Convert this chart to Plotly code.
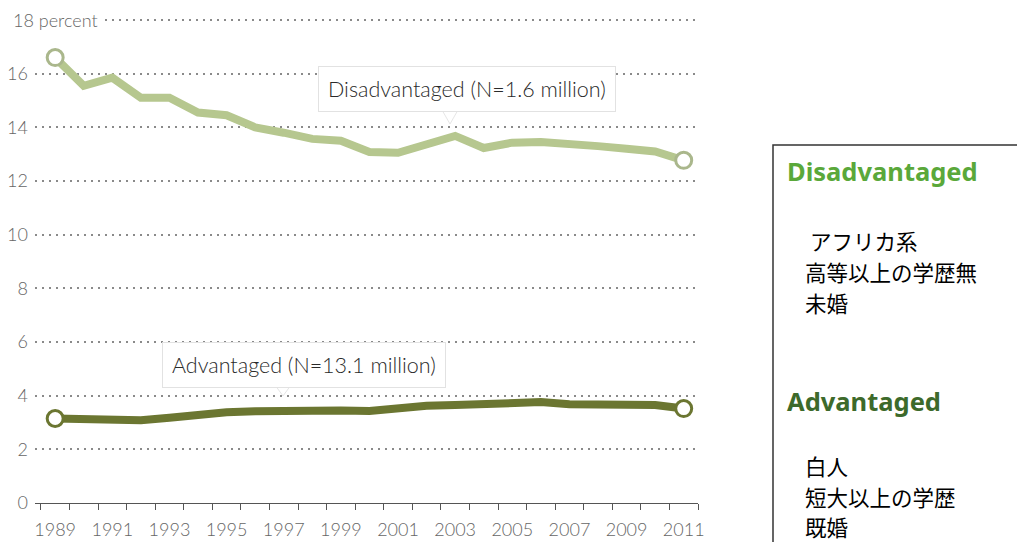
import plotly.graph_objects as go

years = list(range(1989, 2012))
disadvantaged = [16.6, 15.55, 15.85, 15.1, 15.1, 14.55, 14.45, 14.0, 13.8, 13.57, 13.5,
                 13.08, 13.05, 13.4, 13.68, 13.23, 13.43, 13.45, 13.4, 13.3, 13.2, 13.1, 12.77]
advantaged = [3.15, 3.14, 3.12, 3.08, 3.18, 3.3, 3.38, 3.42, 3.45, 3.45, 3.45,
              3.43, 3.55, 3.62, 3.65, 3.69, 3.73, 3.76, 3.68, 3.68, 3.65, 3.65, 3.52]
y_ticks = [0, 2, 4, 6, 8, 10, 12, 14, 16, 18]
y_ticktext = ["0", "2", "4", "6", "8", "10", "12", "14", "16", ""]
x_ticks = list(range(1989, 2012, 2))

LIGHT = "#b6c78f"
DARK = "#6b7631"
W, H = 1017, 542

fig = go.Figure()
fig.add_trace(go.Scatter(x=years, y=disadvantaged, mode="lines",
                         line=dict(color=LIGHT, width=8), hoverinfo="skip"))
fig.add_trace(go.Scatter(x=years, y=advantaged, mode="lines",
                         line=dict(color=DARK, width=8), hoverinfo="skip"))
fig.add_trace(go.Scatter(x=[years[0], years[-1]], y=[disadvantaged[0], disadvantaged[-1]],
                         mode="markers",
                         marker=dict(size=16, color="white", line=dict(color="#aab78c", width=3))))
fig.add_trace(go.Scatter(x=[years[0], years[-1]], y=[advantaged[0], advantaged[-1]],
                         mode="markers",
                         marker=dict(size=16, color="white", line=dict(color=DARK, width=3))))

px_per_year = 28.57
x_left_px, x_right_px = 35, 698
x0 = 2011.5 - (x_right_px - x_left_px) / px_per_year

px_per_unit = (503 - 20) / 18
y_top = 18.1
top_px = 503 - y_top * px_per_unit

tick_font = dict(family="Lato, 'Open Sans', sans-serif", size=18, color="#666", weight=300)

fig.update_layout(
    width=W, height=H,
    margin=dict(l=0, r=0, t=0, b=0),
    paper_bgcolor="white", plot_bgcolor="white",
    showlegend=False,
    xaxis=dict(domain=[x_left_px / W, x_right_px / W], range=[x0, 2011.5],
               tickvals=x_ticks, ticks="", showgrid=False, zeroline=False,
               showline=True, linecolor="#555", linewidth=1.3, automargin=False,
               tickfont=tick_font, ticklabelstandoff=10,
               minor=dict(tick0=1988.5, dtick=1, ticks="outside", ticklen=6,
                          tickcolor="#555", tickwidth=1.3, showgrid=False)),
    yaxis=dict(domain=[1 - 503 / H, 1 - top_px / H], range=[0, y_top],
               tickvals=y_ticks, ticktext=y_ticktext, ticks="",
               showgrid=True, gridcolor="#8a8a8a", gridwidth=1.6, griddash="2px,5px",
               zeroline=False, showline=False, tickfont=tick_font, automargin=False,
               ticklabelstandoff=6),
)

def px2x(p):
    return x0 + (p - x_left_px) / px_per_year

def py2y(p):
    return (503 - p) / px_per_unit

callout_font = dict(family="Lato, 'Open Sans', sans-serif", size=21.5, color="#2a2a2a", weight=300)
callouts = [
    ("Disadvantaged (N=1.6 million)", 467, 89, 450, 110, 124),
    ("Advantaged (N=13.1 million)", 304, 365, 283, 385, 396),
]
for text, cx, cy, tipx, basey, tipy in callouts:
    fig.add_shape(type="path", xref="x", yref="y",
                  path=f"M {px2x(tipx - 8)} {py2y(basey)} L {px2x(tipx)} {py2y(tipy)} L {px2x(tipx + 8)} {py2y(basey)} Z",
                  fillcolor="white", line=dict(color="#e6e6e6", width=1), layer="above")
    fig.add_annotation(x=px2x(cx), y=py2y(cy), xref="x", yref="y", text=text,
                       showarrow=False, font=callout_font, bgcolor="white",
                       bordercolor="#e2e2e2", borderwidth=1, borderpad=9)

fig.add_annotation(x=8 / W, y=18, xref="paper", yref="y", xanchor="left", yanchor="middle",
                   text="18 percent", showarrow=False, font=tick_font,
                   bgcolor="white", borderpad=4)

# Right panel
fig.add_shape(type="rect", xref="paper", yref="paper",
              x0=773 / W, x1=1.08, y0=-0.08, y1=1 - 145 / H,
              line=dict(color="#333", width=1.5), fillcolor="rgba(0,0,0,0)")

head_font = "'Noto Sans', 'Open Sans', sans-serif"
cjk_font = "'Noto Sans CJK JP', sans-serif"
panel_heads = [
    ("<b>Disadvantaged</b>", 785, 171, "#5aa83a"),
    ("<b>Advantaged</b>", 785, 401, "#3d6a2b"),
]
panel_notes = [
    ("アフリカ系", 808, 240),
    ("高等以上の学歴無", 803, 271),
    ("未婚", 803, 302),
    ("白人", 803, 465),
    ("短大以上の学歴", 803, 496),
    ("既婚", 803, 526),
]
for text, x, y, color in panel_heads:
    fig.add_annotation(x=x / W, y=1 - y / H, xref="paper", yref="paper",
                       xanchor="left", yanchor="middle", text=text, showarrow=False,
                       font=dict(family=head_font, size=25.5, color=color))
for text, x, y in panel_notes:
    fig.add_annotation(x=x / W, y=1 - y / H, xref="paper", yref="paper",
                       xanchor="left", yanchor="middle", text=text, showarrow=False,
                       font=dict(family=cjk_font, size=21.5, color="#000"))

fig.write_html("out.html")
